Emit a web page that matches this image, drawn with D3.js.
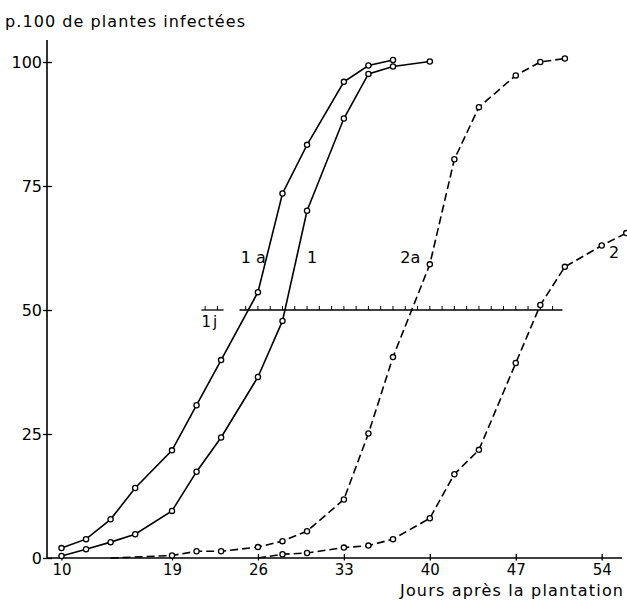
<!DOCTYPE html>
<html>
<head>
<meta charset="utf-8">
<script src="https://cdn.jsdelivr.net/npm/d3@7"></script>
<style>
  body { margin: 0; background: #fff; }
  svg { display: block; }
  text { font-family: "DejaVu Sans", sans-serif; fill: #000; }
</style>
</head>
<body>
<svg id="drawing_region"></svg>
<script>
// axis ticks
const xTicks = [10, 19, 26, 33, 40, 47, 54];
const yTicks = [0, 25, 50, 75, 100];

// curve 1a (solid)
const days1a = [10, 12, 14, 16, 19, 21, 23, 26, 28, 30, 33, 35, 37];
const pct1a  = [2, 3.8, 7.8, 14.1, 21.7, 30.8, 39.9, 53.6, 73.5, 83.3, 96, 99.3, 100.4];

// curve 1 (solid)
const days1 = [10, 12, 14, 16, 19, 21, 23, 26, 28, 30, 33, 35, 37, 40];
const pct1  = [0.4, 1.75, 3.2, 4.8, 9.5, 17.4, 24.3, 36.5, 47.8, 70, 88.6, 97.6, 99.1, 100.1];

// curve 2a (dashed), starts on the axis at day 14
const start2a = [14, 0];
const days2a = [19, 21, 23, 26, 28, 30, 33, 35, 37, 40, 42, 44, 47, 49, 51];
const pct2a  = [0.5, 1.35, 1.35, 2.2, 3.4, 5.4, 11.8, 25.1, 40.5, 59.2, 80.4, 90.9, 97.3, 100, 100.7];

// curve 2 (dashed), starts on the axis at day 26
const start2 = [26, 0];
const days2 = [28, 30, 33, 35, 37, 40, 42, 44, 47, 49, 51, 54, 56];
const pct2  = [0.75, 1.0, 2.1, 2.5, 3.8, 8.0, 16.9, 21.8, 39.3, 51, 58.7, 63, 65.5];

// curve labels
const labelText = ["1 a", "1", "2a", "2"];
const labelDay  = [24.6, 30, 37.6, 54.6];
const labelPct  = [59.5, 59.5, 59.5, 60.5];

// 50 % scale bar with one-day ticks
const barFrom = 24.5, barTo = 50.8;
const barTicks = d3.range(25, 51);
const dayBarFrom = 21.4, dayBarTo = 23.2;
const dayBarTicks = [21.7, 22.7];

const config = { width: 627, height: 600 };

const svg = d3.select('#drawing_region')
    .attr('width', config.width)
    .attr('height', config.height);

const xscale = d3.scaleLinear().domain([10, 54]).range([61.5, 601.7]);
const yscale = d3.scaleLinear().domain([0, 100]).range([558, 62]);

svg.append('clipPath').attr('id', 'clip')
    .append('rect').attr('x', 0).attr('y', 0)
    .attr('width', config.width).attr('height', config.height);

// axis lines
svg.append('line')
    .attr('x1', 47).attr('x2', 47).attr('y1', 40).attr('y2', yscale(0))
    .attr('stroke', '#000').attr('stroke-width', 1.6);
svg.append('line')
    .attr('x1', 47).attr('x2', 622).attr('y1', yscale(0)).attr('y2', yscale(0))
    .attr('stroke', '#000').attr('stroke-width', 1.6);

const xaxis = d3.axisBottom(xscale)
    .tickValues(xTicks)
    .tickSize(-4)
    .tickPadding(6);
const xaxis_group = svg.append('g')
    .attr('transform', `translate(0, ${yscale(0)})`)
    .call(xaxis);
xaxis_group.select('.domain').remove();
xaxis_group.selectAll('line').attr('y1', 2.5).attr('stroke-width', 1.3);
xaxis_group.selectAll('text').attr('font-size', 15).attr('font-family', '"DejaVu Sans", sans-serif');

const yaxis = d3.axisLeft(yscale)
    .tickValues(yTicks)
    .tickSize(-5)
    .tickPadding(5);
const yaxis_group = svg.append('g')
    .attr('transform', `translate(47, 0)`)
    .call(yaxis);
yaxis_group.select('.domain').remove();
yaxis_group.selectAll('line').attr('x1', -4).attr('stroke-width', 1.3);
yaxis_group.selectAll('text').attr('font-size', 16).attr('font-family', '"DejaVu Sans", sans-serif');

// titles
svg.append('text')
    .text('p.100 de plantes infectées')
    .attr('x', 5).attr('y', 27)
    .attr('font-size', 16)
    .attr('textLength', 240)
    .attr('lengthAdjust', 'spacing');
svg.append('text')
    .text('Jours après la plantation')
    .attr('x', 400).attr('y', 596)
    .attr('font-size', 16)
    .attr('textLength', 223)
    .attr('lengthAdjust', 'spacing');

// 50 % bar
const barY = yscale(50);
const bars = svg.append('g').attr('stroke', '#000').attr('stroke-width', 1.3);
bars.append('line')
    .attr('x1', xscale(barFrom)).attr('x2', xscale(barTo))
    .attr('y1', barY).attr('y2', barY);
bars.selectAll('.bt').data(barTicks).enter().append('line')
    .attr('class', 'bt')
    .attr('x1', d => xscale(d)).attr('x2', d => xscale(d))
    .attr('y1', barY).attr('y2', barY - 4).attr('stroke-width', 1);
bars.append('line')
    .attr('x1', xscale(dayBarFrom)).attr('x2', xscale(dayBarTo))
    .attr('y1', barY).attr('y2', barY);
bars.selectAll('.dt').data(dayBarTicks).enter().append('line')
    .attr('class', 'dt')
    .attr('x1', d => xscale(d)).attr('x2', d => xscale(d))
    .attr('y1', barY).attr('y2', barY - 4).attr('stroke-width', 1);
svg.append('text')
    .text('1j')
    .attr('x', xscale(dayBarFrom)).attr('y', barY + 17)
    .attr('font-size', 15)
    .attr('letter-spacing', 2);

// curves
const line = d3.line().x(d => xscale(d[0])).y(d => yscale(d[1]));

const series = [
    { days: days1a, pct: pct1a, start: null, dash: null },
    { days: days1,  pct: pct1,  start: null, dash: null },
    { days: days2a, pct: pct2a, start: start2a, dash: '8,4' },
    { days: days2,  pct: pct2,  start: start2, dash: '8,4' }
];

series.forEach(s => {
    const pts = s.days.map((d, i) => [d, s.pct[i]]);
    const linePts = s.start ? [s.start].concat(pts) : pts;
    svg.append('path')
        .attr('d', line(linePts))
        .attr('fill', 'none')
        .attr('stroke', '#000')
        .attr('stroke-width', 1.6)
        .attr('stroke-dasharray', s.dash)
        .attr('clip-path', 'url(#clip)');
    svg.append('g').selectAll('circle')
        .data(pts)
        .enter()
        .append('circle')
        .attr('cx', d => xscale(d[0]))
        .attr('cy', d => yscale(d[1]))
        .attr('r', 2.6)
        .attr('fill', '#fff')
        .attr('stroke', '#000')
        .attr('stroke-width', 1.3);
});

// labels
svg.append('g').selectAll('text')
    .data(labelText)
    .enter()
    .append('text')
    .text(d => d)
    .attr('x', (d, i) => xscale(labelDay[i]))
    .attr('y', (d, i) => yscale(labelPct[i]))
    .attr('font-size', 16);
</script>
</body>
</html>
